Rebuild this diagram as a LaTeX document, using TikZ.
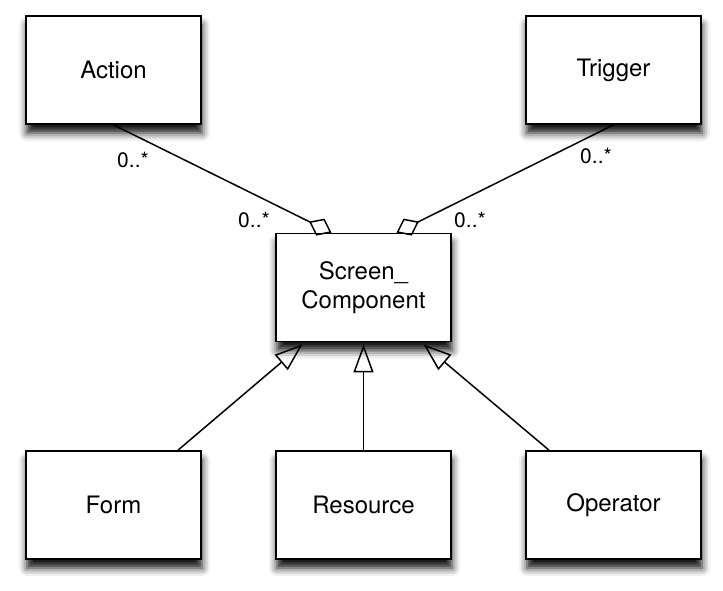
\documentclass[tikz,border=0pt]{standalone}
\usepackage{fontspec}
\setmainfont{TeX Gyre Heros}
\usetikzlibrary{arrows.meta}
\usetikzlibrary{shadows.blur}

\begin{document}
\begin{tikzpicture}[x=1pt,y=-1pt,
 cls/.style={draw,line width=1.7pt,fill=white,minimum width=175pt,minimum height=108pt,align=center,
  font=\fontsize{24}{29}\selectfont,
  blur shadow={shadow xshift=1pt,shadow yshift=-9pt,shadow blur radius=8pt,shadow opacity=95}},
 mult/.style={anchor=base,inner sep=0pt,font=\fontsize{21}{24}\selectfont},
 aggr/.style={line width=1.5pt,-{Diamond[open,length=25pt,width=19pt,line width=1.5pt]}},
 gen/.style={line width=1.5pt,-{Triangle[open,length=28pt,width=20pt,line width=1.5pt]}}]
 \useasboundingbox (0,0) rectangle (723,590);
 \node[cls] (action) at (113.5,70) {Action};
 \node[cls] (trigger) at (613.5,70) {Trigger};
 \node[cls] (screen) at (363.5,287.5) {Screen\_\\Component};
 \node[cls] (form) at (113.5,505) {Form};
 \node[cls] (resource) at (363.5,505) {Resource};
 \node[cls] (operator) at (613.5,505) {Operator};
 \draw[aggr] (action.south) -- ([xshift=-32pt]screen.north);
 \draw[aggr] (trigger.south) -- ([xshift=33pt]screen.north);
 \node[mult] (m1) at (133,167) {0..*};
 \node[mult] (m2) at (254,227) {0..*};
 \node[mult] (m3) at (596,163) {0..*};
 \node[mult] (m4) at (470,227) {0..*};
 \draw[gen] ([xshift=64.5pt]form.north) -- ([xshift=-61pt,yshift=-2pt]screen.south);
 \draw[gen] (resource.north) -- ([yshift=-2pt]screen.south);
 \draw[gen] ([xshift=-64.5pt]operator.north) -- ([xshift=60pt,yshift=-2pt]screen.south);
\end{tikzpicture}
\end{document}
